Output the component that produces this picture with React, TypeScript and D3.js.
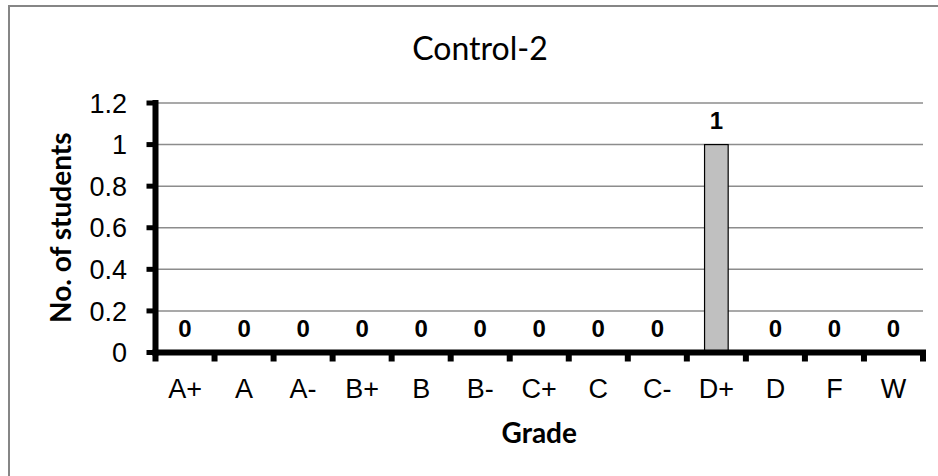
import React from "react";
import * as d3 from "d3";

const categories = ["A+", "A", "A-", "B+", "B", "B-", "C+", "C", "C-", "D+", "D", "F", "W"];
const students = [0, 0, 0, 0, 0, 0, 0, 0, 0, 1, 0, 0, 0];
const yTicks = [0, 0.2, 0.4, 0.6, 0.8, 1, 1.2];
const yTickLabels = ["0", "0.2", "0.4", "0.6", "0.8", "1", "1.2"];
const title = "Control-2";
const xTitle = "Grade";
const yTitle = "No. of students";

const W = 938;
const H = 476;
const left = 155.5;
const right = 923;
const top = 103;
const bottom = 352.5;

export default function App() {
  const x = d3.scaleBand<string>().domain(categories).range([left, right]).paddingInner(0.6).paddingOuter(0.3);
  const y = d3.scaleLinear().domain([0, 1.2]).range([bottom, top]);
  const step = x.step();
  const boundaries = d3.range(categories.length + 1).map((i) => left + i * step);
  const arial = "'Liberation Sans', Arial, sans-serif";
  const calibri = "Lato, 'Open Sans', sans-serif";

  return (
    <div style={{ position: "absolute", left: 0, top: 0 }}>
      <svg width={W} height={H} style={{ display: "block", background: "#fff" }}>
        <rect x={9} y={6} width={1000} height={1000} fill="#fff" stroke="#868686" strokeWidth={2} />
        <text x={480} y={60} textAnchor="middle" fontFamily={calibri} fontSize={32} fill="#000">
          {title}
        </text>
        {yTicks.slice(1).map((t) => (
          <line key={t} x1={left} x2={right} y1={y(t)} y2={y(t)} stroke="#8c8c8c" strokeWidth={1.5} />
        ))}
        {categories.map((c, i) => (
          students[i] > 0 ? (
            <rect
              key={c}
              x={x(c)}
              y={y(students[i])}
              width={x.bandwidth()}
              height={y(0) - y(students[i])}
              fill="#C0C0C0"
              stroke="#000"
              strokeWidth={1.2}
            />
          ) : null
        ))}
        {/* y axis */}
        <line x1={left} x2={left} y1={y(1.2) - 3} y2={bottom + 3} stroke="#000" strokeWidth={6} />
        {yTicks.map((t) => (
          <line key={"yt" + t} x1={left - 9} x2={left} y1={y(t)} y2={y(t)} stroke="#000" strokeWidth={5} />
        ))}
        {/* x axis */}
        <line x1={left - 3} x2={right + 3} y1={bottom} y2={bottom} stroke="#000" strokeWidth={6} />
        {boundaries.map((b, i) => (
          <line key={"xt" + i} x1={b} x2={b} y1={bottom} y2={bottom + 9} stroke="#000" strokeWidth={6} />
        ))}
        {yTicks.map((t, i) => (
          <text key={"yl" + t} x={127} y={y(t)} dy="0.36em" textAnchor="end" fontFamily={arial} fontSize={27} fill="#000">
            {yTickLabels[i]}
          </text>
        ))}
        {categories.map((c) => (
          <text key={"xl" + c} x={(x(c) as number) + x.bandwidth() / 2} y={398} textAnchor="middle" fontFamily={arial} fontSize={27} fill="#000">
            {c}
          </text>
        ))}
        {categories.map((c, i) => (
          <text key={"dl" + c} x={(x(c) as number) + x.bandwidth() / 2} y={y(students[i]) - 16} textAnchor="middle" fontFamily={arial} fontWeight="bold" fontSize={24} fill="#000">
            {students[i]}
          </text>
        ))}
        <text x={(left + right) / 2} y={443} textAnchor="middle" fontFamily={calibri} fontWeight="bold" fontSize={28} fill="#000">
          {xTitle}
        </text>
        <text transform={`translate(71, ${(top + bottom) / 2}) rotate(-90)`} textAnchor="middle" fontFamily={calibri} fontWeight="bold" fontSize={28} fill="#000">
          {yTitle}
        </text>
      </svg>
    </div>
  );
}
